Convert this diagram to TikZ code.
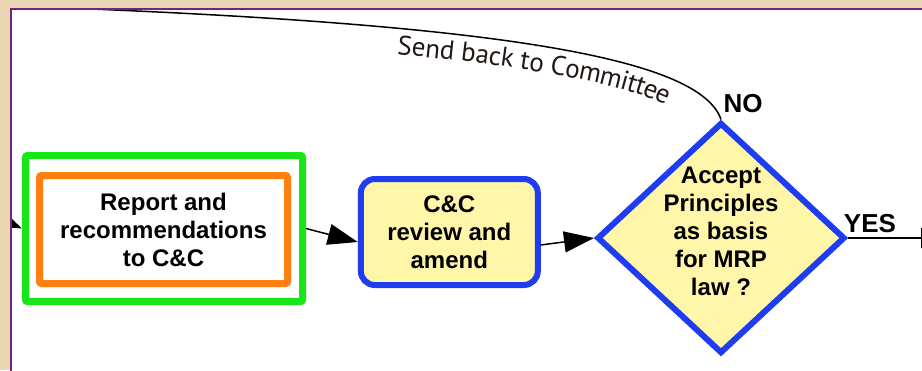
\documentclass[tikz,border=0pt]{standalone}
\usepackage{fontspec}
\setmainfont{Liberation Sans}
\newfontfamily\curvefont{PT Sans}
\usetikzlibrary{arrows.meta,shapes.geometric,decorations.text}
\definecolor{parchment}{HTML}{EAD7B4}
\definecolor{framepurple}{HTML}{7A1F7A}
\definecolor{boxgreen}{HTML}{19E619}
\definecolor{boxorange}{HTML}{FF8010}
\definecolor{boxblue}{HTML}{1E3CF0}
\definecolor{paleyellow}{HTML}{FFF6AA}
\definecolor{curveink}{HTML}{231815}
\begin{document}
\begin{tikzpicture}[x=1pt,y=-1pt,
  boxfont/.style={font=\bfseries\fontsize{24}{28}\selectfont},
  outerbox/.style={draw=boxgreen, line width=7pt, rounded corners=2pt,
    minimum width=277pt, minimum height=146pt, inner sep=0pt},
  innerbox/.style={boxfont, draw=boxorange, line width=7pt, rounded corners=2pt,
    minimum width=248pt, minimum height=108pt, inner sep=0pt, align=center},
  process/.style={boxfont, draw=boxblue, fill=paleyellow, line width=6pt,
    rounded corners=14pt, minimum width=177pt, minimum height=106pt,
    inner sep=0pt, align=center},
  decision/.style={diamond, draw=boxblue, fill=paleyellow, line width=6pt,
    minimum width=248pt, minimum height=231pt, inner sep=0pt},
  answer/.style={font=\bfseries\fontsize{26}{30}\selectfont, inner sep=0pt},
  flow/.style={line width=1.5pt, -{Triangle[length=30pt,width=21pt]}},
  exitflow/.style={line width=1.5pt, -{Triangle[length=27pt,width=20pt]}},
  loopback/.style={line width=1.5pt}
]
\useasboundingbox (0,0) rectangle (922,370);
% page background and white panel
\fill[parchment] (0,0) rectangle (922,370);
\fill[white] (11,9) rectangle (923,371);

% nodes
\node[outerbox] (report) at (164,228.5) {};
\node[innerbox] (recs) at (163.5,229.5) {Report and\\recommendations\\to C\&C};
\node[process] (review) at (449.3,232) {C\&C\\review and\\amend};
\node[decision, label={[boxfont, align=center, yshift=7pt]center:Accept\\Principles\\as basis\\for MRP\\law ?}] (accept) at (721,238) {};
\node[answer] (no) at (743,104) {NO};
\node[answer] (yes) at (870,224) {YES};

% connectors
\draw[flow] (report.east) -- ([yshift=-10pt]review.west);
\draw[flow] ([yshift=-13pt]review.east) -- (accept.west);

\begin{scope}
  \clip (12,10) rectangle (922,370);
  \coordinate (entry) at (-40,201);
  \coordinate (exit) at (948,238);
  \coordinate (loopstart) at (40,7);
  \draw[flow] (entry) -- (report.west);
  \draw[exitflow] (accept.east) -- (exit);
  \draw[loopback] (loopstart) .. controls (500,24) and (700,58) .. (accept.north);
  \path[decorate, decoration={text along path, raise=-26pt,
      text align={left indent=360pt},
      text={|\curvefont\fontsize{27}{31}\selectfont\color{curveink}|Send back to Committee}}]
    (loopstart) .. controls (500,24) and (700,58) .. (accept.north);
\end{scope}

% panel frame
\draw[framepurple, line width=2pt] (11,371) -- (11,9) -- (923,9);
\end{tikzpicture}
\end{document}
